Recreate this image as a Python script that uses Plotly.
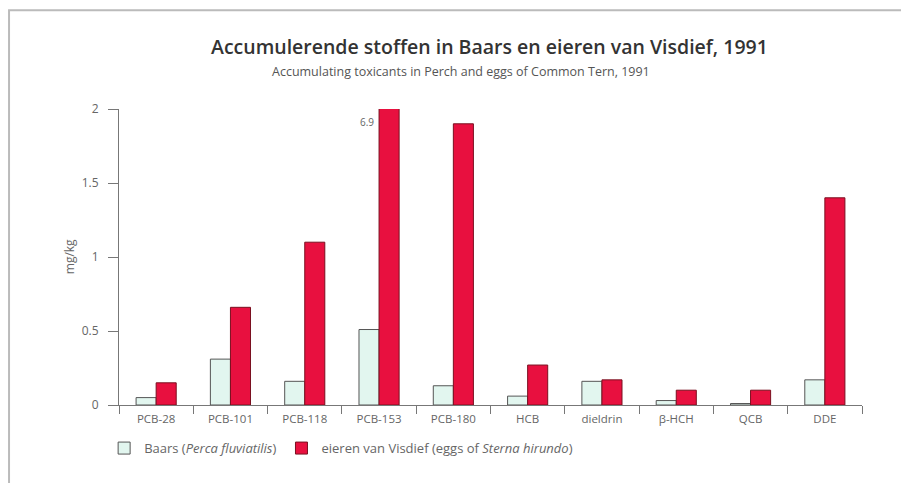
import plotly.graph_objects as go

categories = ["PCB-28", "PCB-101", "PCB-118", "PCB-153", "PCB-180", "HCB", "dieldrin", "β-HCH", "QCB", "DDE"]
baars = [0.05, 0.31, 0.16, 0.51, 0.13, 0.06, 0.16, 0.03, 0.01, 0.17]
visdief = [0.15, 0.66, 1.10, 6.9, 1.90, 0.27, 0.17, 0.10, 0.10, 1.40]
y_max = 2
y_ticks = [0, 0.5, 1, 1.5, 2]
y_ticklabels = ["0", "0.5", "1", "1.5", "2"]

FONT = "Open Sans"
GREY = "#666666"

fig = go.Figure()
fig.add_trace(go.Bar(
    x=categories, y=baars,
    name="Baars (<i>Perca fluviatilis</i>)",
    marker=dict(color="#E2F6EF", line=dict(color="#555555", width=1)),
))
fig.add_trace(go.Bar(
    x=categories, y=visdief,
    name="eieren van Visdief (eggs of <i>Sterna hirundo</i>)",
    marker=dict(color="#E8103F", line=dict(color="#7a1020", width=1)),
))

# label for the off-scale bar
for c, v in zip(categories, visdief):
    if v > y_max:
        fig.add_annotation(x=c, y=y_max, yref="y", xref="x", text=str(v),
                           showarrow=False, xanchor="right", yanchor="top",
                           xshift=-3, yshift=-4,
                           font=dict(family=FONT, size=10, color=GREY))

fig.add_annotation(text="Accumulerende stoffen in Baars en eieren van Visdief, 1991",
                   xref="paper", yref="paper", x=0.498, y=1.21, xanchor="center", yanchor="middle",
                   showarrow=False, font=dict(family=FONT, size=19.5, color="#333333", weight=600))
fig.add_annotation(text="Accumulating toxicants in Perch and eggs of Common Tern, 1991",
                   xref="paper", yref="paper", x=0.46, y=1.128, xanchor="center", yanchor="middle",
                   showarrow=False, font=dict(family=FONT, size=12.5, color="#555555"))
# y-axis title
fig.add_annotation(text="mg/kg", xref="paper", yref="paper", x=-0.067, y=0.5,
                   xanchor="center", yanchor="middle", textangle=-90, showarrow=False,
                   font=dict(family=FONT, size=12, color=GREY))

fig.update_layout(
    width=909, height=483,
    margin=dict(l=111, r=55, t=101, b=86),
    paper_bgcolor="white", plot_bgcolor="white",
    barmode="group", bargap=0.46, bargroupgap=0,
    font=dict(family=FONT, size=10, color=GREY),
    showlegend=True,
    legend=dict(orientation="h", x=-0.02, y=-0.095, xanchor="left", yanchor="top",
                font=dict(family=FONT, size=13, color=GREY), itemwidth=30,
                traceorder="normal"),
    xaxis=dict(type="category", tickson="boundaries", ticks="outside", ticklen=8,
               tickcolor="#777777", showline=True, linecolor="#777777", linewidth=1,
               showgrid=False, automargin=False, ticklabelstandoff=3,
               tickfont=dict(family=FONT, size=11.5, color=GREY)),
    yaxis=dict(range=[0, y_max], tickvals=y_ticks, ticktext=y_ticklabels,
               ticks="outside", ticklen=10, tickcolor="#777777",
               showline=True, linecolor="#777777", linewidth=1, showgrid=False,
               zeroline=False, automargin=False, ticklabelstandoff=7,
               tickfont=dict(family=FONT, size=12, color=GREY)),
)

# outer frame
fig.add_shape(type="rect", xref="paper", yref="paper",
              x0=-0.148, x1=1.07, y0=-0.3, y1=1.334,
              line=dict(color="#bbbbbb", width=2))

fig.write_html("out.html")
